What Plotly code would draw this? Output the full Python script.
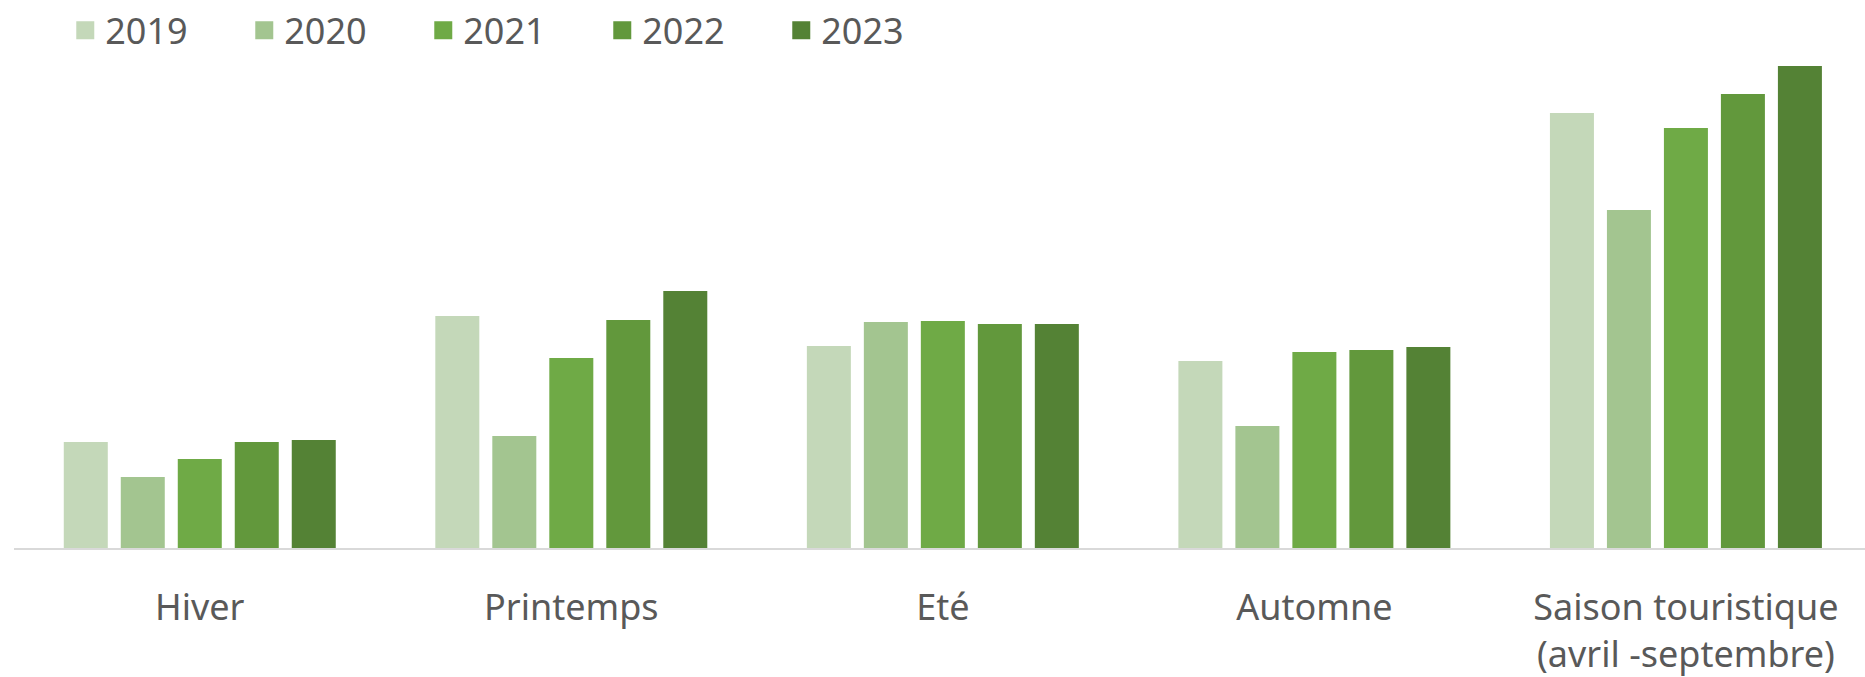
import plotly.graph_objects as go

categories = ["Hiver", "Printemps", "Eté", "Automne", "Saison touristique<br>(avril -septembre)"]
years = ["2019", "2020", "2021", "2022", "2023"]
values_2019 = [106, 232, 202, 187, 435]
values_2020 = [71, 112, 226, 122, 338]
values_2021 = [89, 190, 227, 196, 420]
values_2022 = [106, 228, 224, 198, 454]
values_2023 = [108, 257, 224, 201, 486]
series = [values_2019, values_2020, values_2021, values_2022, values_2023]
colors = ["#C4D8B9", "#A3C590", "#6FAA46", "#62983C", "#548235"]

FONT = "Noto Sans, Open Sans, sans-serif"
TXT = "#595959"

fig = go.Figure()
for yr, vals, col in zip(years, series, colors):
    fig.add_trace(go.Bar(x=categories, y=vals, name=yr, marker=dict(color=col, line=dict(width=0)),
                         legendgroup=yr, showlegend=False))
    fig.add_trace(go.Scatter(x=[None], y=[None], mode="markers", name=yr, legendgroup=yr,
                             marker=dict(symbol="square", size=16, color=col, line=dict(color=col, width=2))))

fig.update_layout(
    width=1865, height=677, autosize=False,
    margin=dict(l=14, r=0, t=60, b=129),
    paper_bgcolor="white", plot_bgcolor="white",
    barmode="group", bargap=0.233, bargroupgap=0.228,
    font=dict(family=FONT, color=TXT, size=36),
    showlegend=True,
    legend=dict(orientation="h", x=0.0277, xanchor="left", y=1.0738, yanchor="middle",
                yref="paper", font=dict(size=36, color=TXT),
                entrywidth=134, entrywidthmode="pixels", itemclick=False),
    xaxis=dict(range=[-0.5, 4.482], showline=True, linecolor="#D9D9D9", linewidth=2,
               showgrid=False, zeroline=False, ticks="", tickfont=dict(size=36, color=TXT),
               ticklabelstandoff=27),
    yaxis=dict(range=[0, 482], visible=False, showgrid=False, zeroline=False),
)
fig.write_html("out.html")
